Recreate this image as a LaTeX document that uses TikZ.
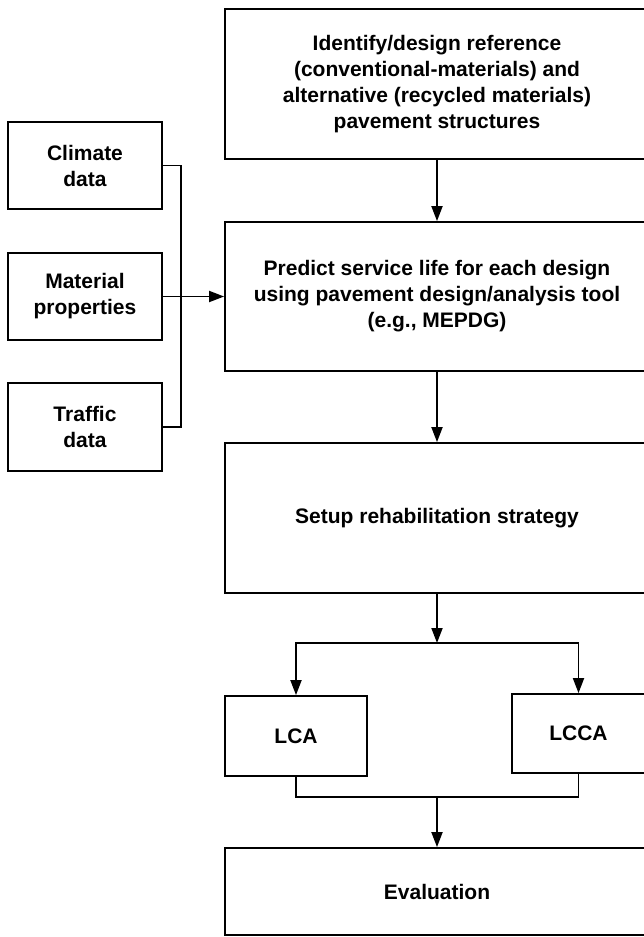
\documentclass[tikz,border=0pt]{standalone}
\usepackage{fontspec}
\setmainfont{Liberation Sans}
\usetikzlibrary{arrows.meta}
\begin{document}
\begin{tikzpicture}[x=1pt,y=-1pt,
  box/.style={draw=black,line width=1.8pt,fill=white,align=center,inner sep=0pt,
    font=\fontsize{21}{26}\selectfont\bfseries},
  conn/.style={line width=1.8pt,draw=black},
  arr/.style={conn,-{Triangle[length=15pt,width=11pt]}}]
\useasboundingbox (0,0) rectangle (644,937);
\node[box,minimum width=424pt,minimum height=150pt] (ident) at (437,84)
  {Identify/design reference\\(conventional-materials) and\\alternative (recycled materials)\\pavement structures};
\node[box,minimum width=424pt,minimum height=149pt] (pred) at (437,296.5)
  {Predict service life for each design\\using pavement design/analysis tool\\(e.g., MEPDG)};
\node[box,minimum width=424pt,minimum height=150pt] (setup) at (437,518)
  {Setup rehabilitation strategy};
\node[box,minimum width=142pt,minimum height=80pt] (lca) at (296,736) {LCA};
\node[box,minimum width=133pt,minimum height=79pt] (lcca) at (578.5,733.5) {LCCA};
\node[box,minimum width=424pt,minimum height=87pt] (eval) at (437,891.5) {Evaluation};
\node[box,minimum width=154pt,minimum height=87pt] (clim) at (85,165.5) {Climate\\data};
\node[box,minimum width=154pt,minimum height=87pt] (mat) at (85,296.5) {Material\\properties};
\node[box,minimum width=154pt,minimum height=88pt] (traf) at (85,427) {Traffic\\data};
\draw[conn] (clim.east) -- ++(18,0) |- (traf.east);
\draw[arr] (mat.east) -- (pred.west);
\draw[arr] (ident.south) -- (pred.north);
\draw[arr] (pred.south) -- (setup.north);
\coordinate (br) at (437,643);
\draw[arr] (setup.south) -- (br);
\draw[arr] (br) -| (lca.north);
\draw[arr] (br) -| (lcca.north);
\draw[conn] (lca.south) -- ++(0,20) -| (lcca.south);
\coordinate (mg) at (437,797);
\draw[arr] (mg) -- (eval.north);
\end{tikzpicture}
\end{document}
